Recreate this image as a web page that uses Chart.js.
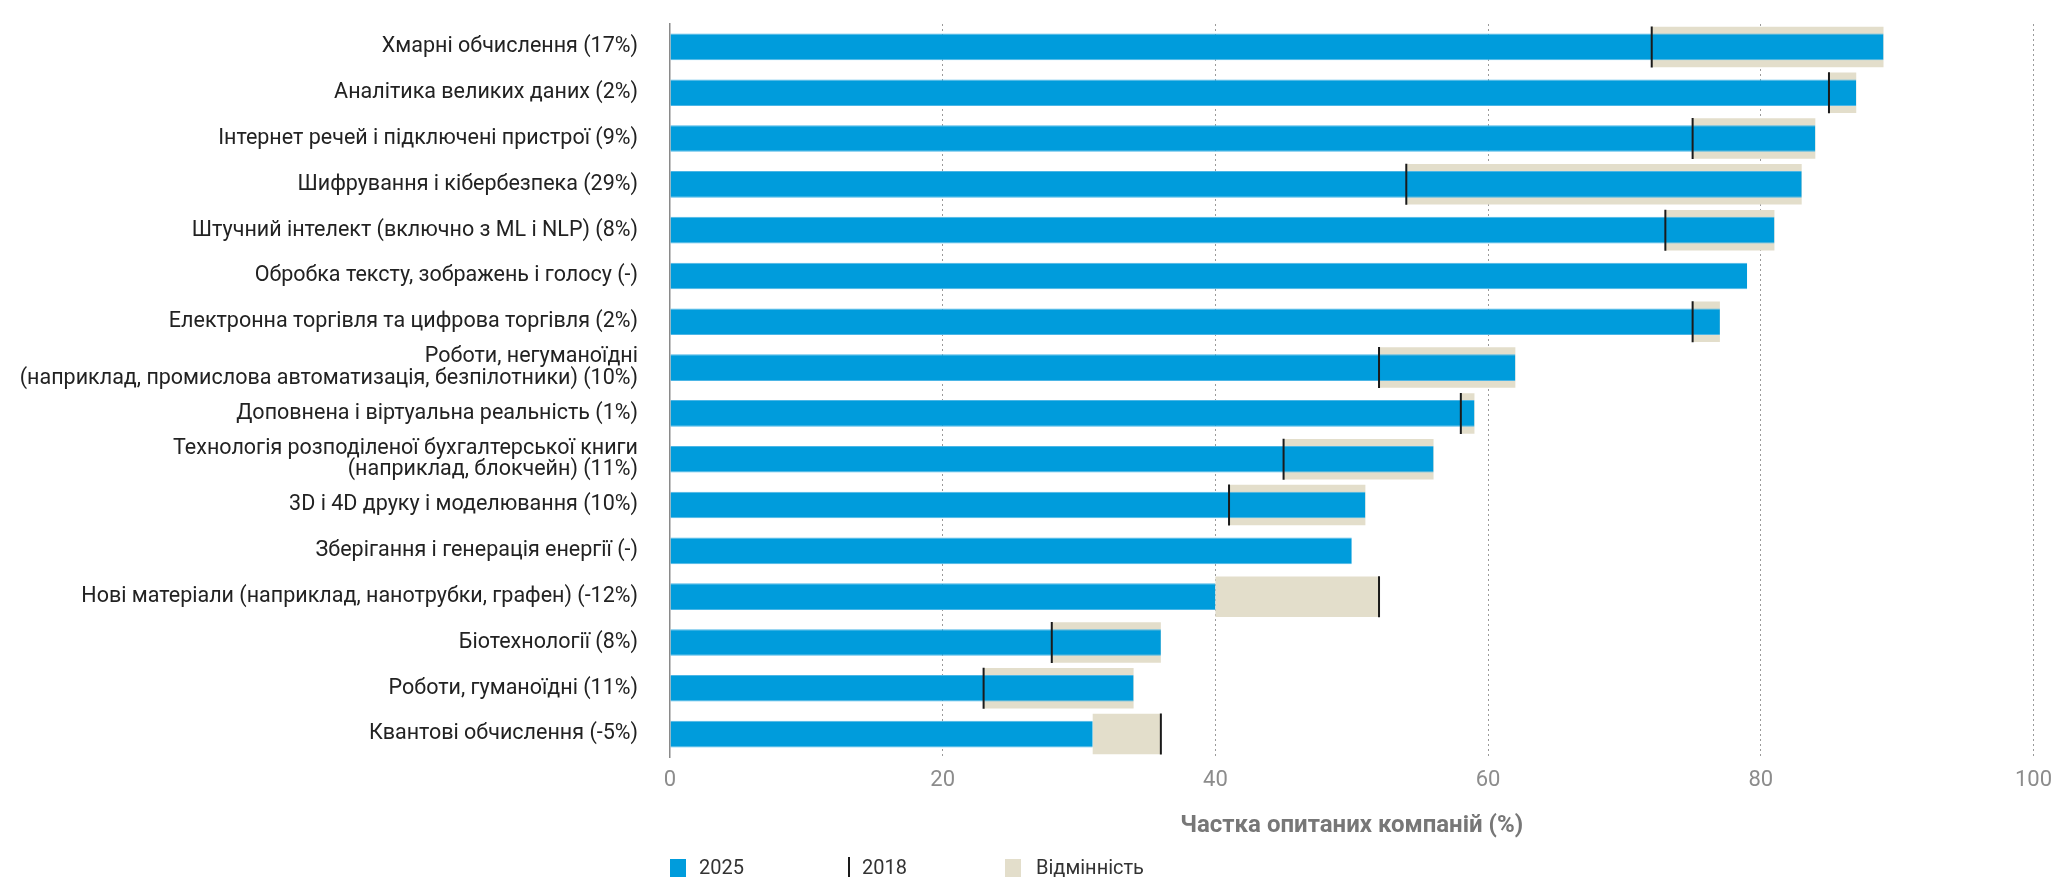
<!DOCTYPE html>
<html lang="uk">
<head>
<meta charset="utf-8">
<title>Технології</title>
<script src="https://cdn.jsdelivr.net/npm/chart.js@4.4.1/dist/chart.umd.min.js"></script>
<style>
  html, body { margin: 0; padding: 0; background: #fff; }
  #wrap { position: relative; width: 2056px; height: 877px; overflow: hidden; }
  #chart { position: absolute; left: 0; top: 0; }
  .legend { position: absolute; top: 855px; height: 24px; font-family: Roboto, "Noto Sans", sans-serif; font-size: 20px; color: #333; line-height: 24px; }
  .sw { position: absolute; }
</style>
</head>
<body>
<div id="wrap">
  <canvas id="chart" width="2056" height="877"></canvas>
  <div class="legend" style="left:670px;width:16px;"><span class="sw" style="left:0;top:4px;width:16px;height:18px;background:#009cdc;"></span></div>
  <div class="legend" style="left:699px;">2025</div>
  <div class="legend" style="left:848px;"><span class="sw" style="left:0;top:2px;width:2px;height:22px;background:#1a1a1a;"></span></div>
  <div class="legend" style="left:862px;">2018</div>
  <div class="legend" style="left:1005px;width:16px;"><span class="sw" style="left:0;top:4px;width:16px;height:18px;background:#e3decb;"></span></div>
  <div class="legend" style="left:1036px;">Відмінність</div>
</div>
<script>
// Categories (with change since 2018 in brackets)
const categories = [
    'Хмарні обчислення (17%)',
    'Аналітика великих даних (2%)',
    'Інтернет речей і підключені пристрої (9%)',
    'Шифрування і кібербезпека (29%)',
    'Штучний інтелект (включно з ML і NLP) (8%)',
    'Обробка тексту, зображень і голосу (-)',
    'Електронна торгівля та цифрова торгівля (2%)',
    ['Роботи, негуманоїдні', '(наприклад, промислова автоматизація, безпілотники) (10%)'],
    'Доповнена і віртуальна реальність (1%)',
    ['Технологія розподіленої бухгалтерської книги', '(наприклад, блокчейн) (11%)'],
    '3D і 4D друку і моделювання (10%)',
    'Зберігання і генерація енергії (-)',
    'Нові матеріали (наприклад, нанотрубки, графен) (-12%)',
    'Біотехнології (8%)',
    'Роботи, гуманоїдні (11%)',
    'Квантові обчислення (-5%)'
];

// Share of surveyed companies, %
const values2025 = [89, 87, 84, 83, 81, 79, 77, 62, 59, 56, 51, 50, 40, 36, 34, 31];
const values2018 = [72, 85, 75, 54, 73, null, 75, 52, 58, 45, 41, null, 52, 28, 23, 36];

const xTicks = [0, 20, 40, 60, 80, 100];

const BLUE = '#009cdc';
const BEIGE = '#e3decb';
const FONT = 'Roboto, "Noto Sans", sans-serif';

// beige band between 2018 and 2025
const diffData = values2025.map((v, i) =>
    values2018[i] == null ? null : [Math.min(v, values2018[i]), Math.max(v, values2018[i])]);

// 2018 marker as vertical line points (y given by the label itself)
const markData = values2018
    .map((v, i) => ({ x: v, y: categories[i] }))
    .filter(p => p.x != null);

const ctx = document.getElementById('chart').getContext('2d');
const chart = new Chart(ctx, {
    type: 'bar',
    data: {
        labels: categories,
        datasets: [
            {
                type: 'scatter',
                label: '2018',
                data: markData,
                pointStyle: 'line',
                rotation: 90,
                radius: 20.5,
                hoverRadius: 20.5,
                borderColor: '#1a1a1a',
                backgroundColor: '#1a1a1a',
                borderWidth: 2,
                order: 1
            },
            {
                label: '2025',
                data: values2025,
                backgroundColor: BLUE,
                borderColor: '#4cb6e6',
                borderWidth: { top: 1, bottom: 1, right: 0, left: 0 },
                borderSkipped: false,
                grouped: false,
                barPercentage: 0.58,
                categoryPercentage: 1,
                order: 2
            },
            {
                label: 'Відмінність',
                data: diffData,
                backgroundColor: BEIGE,
                borderWidth: 0,
                grouped: false,
                barPercentage: 0.885,
                categoryPercentage: 1,
                order: 3
            }
        ]
    },
    options: {
        indexAxis: 'y',
        responsive: false,
        animation: false,
        events: [],
        layout: { padding: { left: 0, right: 21, top: 24, bottom: 0 } },
        plugins: {
            legend: { display: false },
            tooltip: { enabled: false }
        },
        scales: {
            x: {
                type: 'linear',
                position: 'bottom',
                min: 0,
                max: 100,
                afterBuildTicks: scale => { scale.ticks = xTicks.map(v => ({ value: v })); },
                afterFit: scale => {
                    scale.height = 120;
                    scale.paddingLeft = 0;
                    scale.paddingRight = 0;
                },
                grid: {
                    color: ctx => ctx.tick && ctx.tick.value === 0 ? 'rgba(0,0,0,0)' : '#9a9a9a',
                    lineWidth: 1,
                    drawTicks: false
                },
                border: { display: false, dash: [2, 3] },
                ticks: {
                    color: '#8c8c8c',
                    padding: 10,
                    font: { family: FONT, size: 22 }
                },
                title: {
                    display: true,
                    text: 'Частка опитаних компаній (%)',
                    color: '#777',
                    font: { family: FONT, size: 24, weight: 'bold' },
                    padding: { top: 0, bottom: 37 }
                }
            },
            y: {
                type: 'category',
                afterFit: scale => {
                    scale.width = 670;
                    scale.paddingTop = 0;
                    scale.paddingBottom = 0;
                },
                grid: { display: false, drawTicks: false },
                border: { display: true, color: '#8a8a8a', width: 1.5 },
                ticks: {
                    color: '#222',
                    padding: 32,
                    autoSkip: false,
                    font: { family: FONT, size: 21.5, lineHeight: 1.0 }
                }
            }
        }
    }
});
</script>
</body>
</html>
